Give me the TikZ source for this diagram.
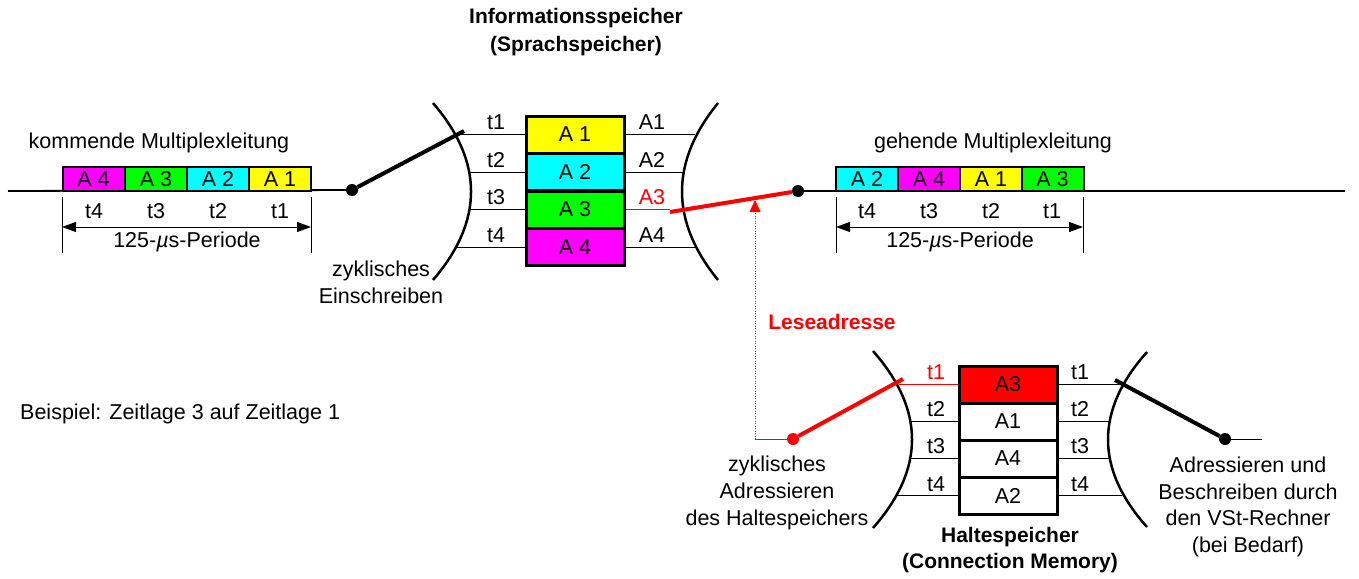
\documentclass[tikz,border=0pt]{standalone}
\usepackage{fontspec}
\setmainfont{Liberation Sans}
\usetikzlibrary{arrows.meta}
\definecolor{cyanA}{RGB}{0,255,255}
\definecolor{magA}{RGB}{255,0,255}
\definecolor{yelA}{RGB}{255,255,0}
\definecolor{grnA}{RGB}{0,255,0}
\definecolor{redA}{RGB}{255,0,0}
\begin{document}
\begin{tikzpicture}[x=1pt,y=-1pt,font=\fontsize{21.5}{27}\selectfont,
 slot/.style={draw,line width=2pt,minimum width=62pt,minimum height=24pt,inner sep=0pt},
 cell/.style={draw,line width=3pt,minimum width=98pt,minimum height=37pt,inner sep=0pt},
 thinl/.style={line width=1pt},
 mainl/.style={line width=1.8pt},
 arcl/.style={line width=2.5pt},
 swl/.style={line width=4pt},
 dot/.style={circle,fill,inner sep=0pt,minimum size=12pt},
 dim/.style={line width=1pt,{Triangle[length=14pt,width=10pt]}-{Triangle[length=14pt,width=10pt]}},
 lbl/.style={inner sep=0pt},
 ttl/.style={inner sep=0pt,align=center,font=\fontsize{21}{28}\selectfont\bfseries},
]
\useasboundingbox (0,0) rectangle (1359,578);

% ---------- titles and free texts
\node[ttl] (title) at (576,32) {Informationsspeicher\\(Sprachspeicher)};
\node[lbl] (kom) at (159,143) {kommende Multiplexleitung};
\node[lbl] (geh) at (993,143) {gehende Multiplexleitung};
\node[lbl,anchor=west] (bsp) at (20,414) {Beispiel: Zeitlage 3 auf Zeitlage 1};
\node[lbl,align=center] (zykE) at (381,282) {zyklisches\\Einschreiben};
\node[lbl,align=center] (zykA) at (777,493) {zyklisches\\Adressieren\\des Haltespeichers};
\node[lbl,align=center,font=\fontsize{21.5}{26.5}\selectfont] (vst) at (1248,507) {Adressieren und\\Beschreiben durch\\den VSt-Rechner\\(bei Bedarf)};
\node[ttl,font=\fontsize{21}{26}\selectfont\bfseries] (halt) at (1010,550) {Haltespeicher\\(Connection Memory)};
\node[lbl,text=redA,font=\fontsize{21}{27}\selectfont\bfseries] (lese) at (832,322) {Leseadresse};

% ---------- incoming multiplex line
\coordinate (inL) at (8,191);
\node[dot] (dotL) at (352,190) {};
\draw[mainl] (inL) -- (dotL);
\node[slot,fill=magA] (l4) at (93.5,179) {A 4};
\node[slot,fill=grnA] (l3) at (156,179) {A 3};
\node[slot,fill=cyanA] (l2) at (218,179) {A 2};
\node[slot,fill=yelA] (l1) at (280,179) {A 1};
\coordinate (lt1) at (62,197); \coordinate (lb1) at (62,253);
\coordinate (lt2) at (311,197); \coordinate (lb2) at (311,253);
\draw[thinl] (lt1) -- (lb1);
\draw[thinl] (lt2) -- (lb2);
\coordinate (la1) at (62,227); \coordinate (la2) at (311,227);
\draw[dim] (la1) -- (la2);
\node[lbl] at (94,211) {t4};
\node[lbl] at (156,211) {t3};
\node[lbl] at (218,211) {t2};
\node[lbl] at (280,211) {t1};
\node[lbl] (perL) at (187,242) {125-\textit{µ}s-Periode};

% ---------- Informationsspeicher
\draw[arcl] (433,103) .. controls (483.7,162) and (483.7,221) .. (433,280);
\draw[arcl] (718,103) .. controls (670,162) and (670,221) .. (718,280);
\node[cell,fill=yelA] (m1) at (575,134.5) {A 1};
\node[cell,fill=cyanA] (m2) at (575,172) {A 2};
\node[cell,fill=grnA] (m3) at (575,209.5) {A 3};
\node[cell,fill=magA] (m4) at (575,247) {A 4};
\coordinate (ia1) at (455,134.5); \coordinate (ia2) at (469,172);
\coordinate (ia3) at (469,209.5); \coordinate (ia4) at (456,247);
\draw[thinl] (ia1) -- (m1.west);
\draw[thinl] (ia2) -- (m2.west);
\draw[thinl] (ia3) -- (m3.west);
\draw[thinl] (ia4) -- (m4.west);
\node[lbl] at (496,122) {t1};
\node[lbl] at (496,160) {t2};
\node[lbl] at (496,197) {t3};
\node[lbl] at (496,235) {t4};
\coordinate (oa1) at (695,134.5); \coordinate (oa2) at (684,172);
\coordinate (oa3) at (670,209.5); \coordinate (oa4) at (695,247);
\draw[thinl] (m1.east) -- (oa1);
\draw[thinl] (m2.east) -- (oa2);
\draw[thinl,redA] (m3.east) -- (oa3);
\draw[thinl] (m4.east) -- (oa4);
\node[lbl] at (652,122) {A1};
\node[lbl] at (652,160) {A2};
\node[lbl,text=redA] at (652,197) {A3};
\node[lbl] at (652,235) {A4};
\coordinate (swL) at (464,131);
\draw[swl] (dotL) -- (swL);

% ---------- outgoing multiplex line
\node[dot] (dotR) at (798,191) {};
\coordinate (outR) at (1345,191);
\draw[mainl] (dotR) -- (outR);
\node[slot,fill=cyanA] (r2) at (867,179) {A 2};
\node[slot,fill=magA] (r4) at (929,179) {A 4};
\node[slot,fill=yelA] (r1) at (991,179) {A 1};
\node[slot,fill=grnA] (r3) at (1052.5,179) {A 3};
\coordinate (rt1) at (836,197); \coordinate (rb1) at (836,253);
\coordinate (rt2) at (1083,197); \coordinate (rb2) at (1083,253);
\draw[thinl] (rt1) -- (rb1);
\draw[thinl] (rt2) -- (rb2);
\coordinate (ra1) at (836,227); \coordinate (ra2) at (1083,227);
\draw[dim] (ra1) -- (ra2);
\node[lbl] at (867,211) {t4};
\node[lbl] at (929,211) {t3};
\node[lbl] at (991,211) {t2};
\node[lbl] at (1052,211) {t1};
\node[lbl] (perR) at (960,242) {125-\textit{µ}s-Periode};
\coordinate (swR) at (670,212);
\draw[swl,redA] (swR) -- (dotR);

% ---------- Haltespeicher
\draw[arcl] (873,351) .. controls (925,410) and (925,469) .. (873,528);
\draw[arcl] (1147,352) .. controls (1095,410) and (1095,469) .. (1147,527);
\node[cell,fill=redA] (h1) at (1008,384.5) {A3};
\node[cell,fill=white] (h2) at (1008,421.5) {A1};
\node[cell,fill=white] (h3) at (1008,458.5) {A4};
\node[cell,fill=white] (h4) at (1008,495.5) {A2};
\coordinate (hi1) at (899,384.5); \coordinate (hi2) at (910,421.5);
\coordinate (hi3) at (910,458.5); \coordinate (hi4) at (897,495.5);
\draw[thinl,redA] (hi1) -- (h1.west);
\draw[thinl] (hi2) -- (h2.west);
\draw[thinl] (hi3) -- (h3.west);
\draw[thinl] (hi4) -- (h4.west);
\node[lbl,text=redA] at (936,372) {t1};
\node[lbl] at (936,409) {t2};
\node[lbl] at (936,446) {t3};
\node[lbl] at (936,484) {t4};
\coordinate (ho1) at (1124,384.5); \coordinate (ho2) at (1110,421.5);
\coordinate (ho3) at (1110,458.5); \coordinate (ho4) at (1122,495.5);
\draw[thinl] (h1.east) -- (ho1);
\draw[thinl] (h2.east) -- (ho2);
\draw[thinl] (h3.east) -- (ho3);
\draw[thinl] (h4.east) -- (ho4);
\node[lbl] at (1080,372) {t1};
\node[lbl] at (1080,409) {t2};
\node[lbl] at (1080,446) {t3};
\node[lbl] at (1080,484) {t4};

% read switch (red) and address arrow
\node[dot,fill=redA] (dotH) at (793,439) {};
\coordinate (swH) at (903,379);
\draw[swl,redA] (dotH) -- (swH);
\coordinate (corner) at (755,439);
\coordinate (tipR) at (755,200);
\draw[thinl,redA] (dotH) -- (corner);
\draw[redA,line width=0.8pt,dash pattern=on 1pt off 1.5pt,-{Triangle[length=12pt,width=11pt]}] (corner) -- (tipR);

% write switch (black)
\node[dot] (dotW) at (1225,439) {};
\coordinate (swW) at (1115,380);
\coordinate (wEnd) at (1262,439);
\draw[swl] (dotW) -- (swW);
\draw[thinl] (dotW) -- (wEnd);
\end{tikzpicture}
\end{document}
